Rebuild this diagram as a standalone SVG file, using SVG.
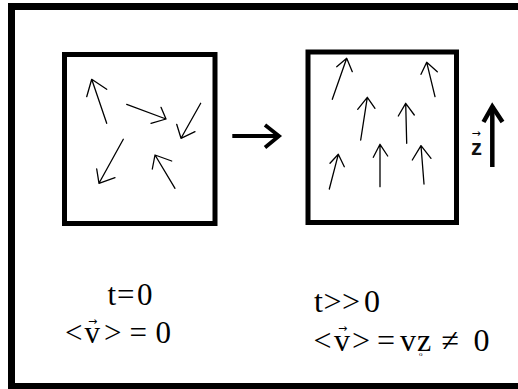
<svg xmlns="http://www.w3.org/2000/svg" width="518" height="389" viewBox="0 0 518 389">
  <style>
    .frame { fill: none; stroke: #000; stroke-width: 7; }
    .box { fill: #fff; stroke: #000; stroke-width: 5; }
    .vel { fill: none; stroke: #000; stroke-width: 1.3; stroke-linecap: round; stroke-linejoin: round; }
    .bold { fill: none; stroke: #000; stroke-linecap: butt; stroke-linejoin: miter; }
    .math { font-family: "Liberation Serif", "Times New Roman", serif; fill: #000; }
    .acc { font-family: "DejaVu Sans", "Liberation Sans", sans-serif; font-size: 11px; fill: #000; }
    .axis { font-family: "Liberation Sans", Arial, sans-serif; font-size: 22px; font-weight: bold; fill: #111; }
  </style>

  <rect width="518" height="389" fill="#fff"/>
  <rect class="frame" x="11.5" y="6.5" width="520" height="380"/>

  <!-- t = 0: random velocities -->
  <g id="box-initial">
    <rect class="box" x="64.5" y="54.5" width="150.5" height="169"/>
    <path class="vel" d="M106.7,123.3 L91.7,79.3 M86.7,96.7 L91.7,79.3 L106.7,89.3"/>
    <path class="vel" d="M126.7,104.3 L166,119 M161,107.3 L166,119 L151,123.3"/>
    <path class="vel" d="M200.7,103.3 L181,138.3 M176.7,124.3 L181,138.3 L195,131.7"/>
    <path class="vel" d="M123.3,139.3 L99,183.3 M96.7,169 L99,183.3 L115,177.7"/>
    <path class="vel" d="M175,188.3 L155,155 M152.3,169 L155,155 L171.7,161"/>
  </g>

  <!-- t >> 0: velocities aligned along z -->
  <g id="box-later">
    <rect class="box" x="308" y="52" width="148.5" height="170.5"/>
    <path class="vel" d="M332.3,99.3 L346.7,58.3 M336.7,66.7 L346.7,58.3 L352.3,71.7"/>
    <path class="vel" d="M435,96.7 L426.7,62.3 M421,74.3 L426.7,62.3 L437.3,71.7"/>
    <path class="vel" d="M360.7,140 L367.3,97.3 M357.7,109.3 L367.3,97.3 L375,108.3"/>
    <path class="vel" d="M406.7,143.3 L405.7,103.3 M398.3,116 L405.7,103.3 L414.3,115"/>
    <path class="vel" d="M329.3,189 L338.3,154.3 M330,163.3 L338.3,154.3 L344.3,166.7"/>
    <path class="vel" d="M380,186.7 L380,144.3 M373.3,157.3 L380,144.3 L387.7,156"/>
    <path class="vel" d="M424,184 L421,145.7 M412.3,160 L421,145.7 L431,158.3"/>
  </g>

  <!-- z axis direction -->
  <g id="z-axis">
    <path class="bold" stroke-width="4.5" d="M492.3,167 L492.3,106"/>
    <path class="bold" stroke-width="4.5" d="M483.5,122 L492.3,106.5 L502.5,122"/>
    <text class="axis" x="471" y="155">z</text>
    <text class="acc" x="471.5" y="137">→</text>
  </g>

  <g id="connectors">
    <path class="bold" stroke-width="3.8" d="M232.3,136 L277,136"/>
    <path class="bold" stroke-width="3.8" d="M265,125 L279,136 L265,147.5"/>
  </g>

  <g id="label-initial" class="math" font-size="31">
    <text y="305"><tspan x="107.5">t</tspan><tspan x="117">=</tspan><tspan x="137">0</tspan></text>
    <text y="343"><tspan x="65">&lt;</tspan><tspan x="84.5">v</tspan><tspan x="104">&gt;</tspan><tspan x="129.5">=</tspan><tspan x="155.5">0</tspan></text>
    <text class="acc" x="88" y="325">→</text>
  </g>

  <g id="label-later" class="math" font-size="32">
    <text y="311.5"><tspan x="314">t</tspan><tspan x="323.5">&gt;</tspan><tspan x="342">&gt;</tspan><tspan x="364">0</tspan></text>
    <text y="350.5"><tspan x="313.5">&lt;</tspan><tspan x="334">v</tspan><tspan x="352">&gt;</tspan><tspan x="377">=</tspan><tspan x="400">v</tspan><tspan x="417">z</tspan><tspan x="441.5">≠</tspan><tspan x="473.5">0</tspan></text>
    <text class="acc" x="338" y="332">→</text>
    <text font-size="7" x="419" y="355.5">o</text>
  </g>
</svg>
